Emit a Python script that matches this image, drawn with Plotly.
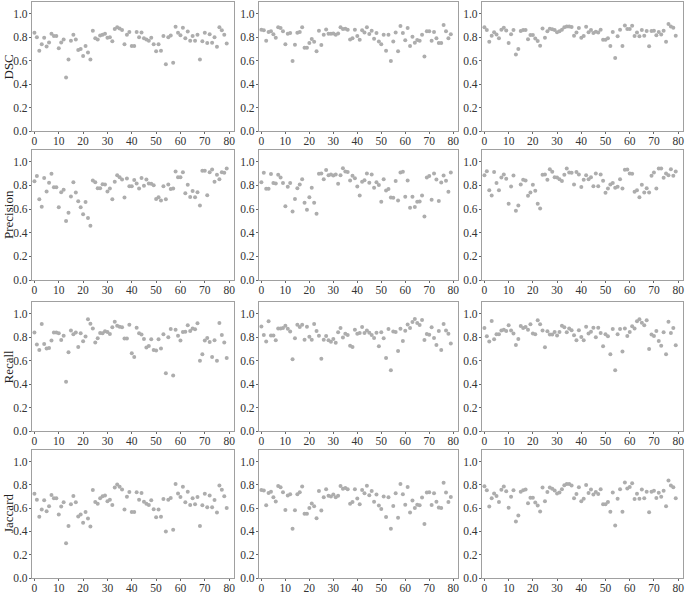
import plotly.graph_objects as go

case_index = list(range(80))
row_metrics = ["DSC", "Precision", "Recall", "Jaccard"]
x_tick_values = [0, 10, 20, 30, 40, 50, 60, 70, 80]
y_tick_values = [0.0, 0.2, 0.4, 0.6, 0.8, 1.0]

dsc_a = [0.837,0.80,0.685,0.74,0.795,0.72,0.755,0.83,0.81,0.81,0.705,0.755,0.78,0.456,0.61,0.77,0.82,0.78,0.69,0.70,
         0.64,0.725,0.67,0.61,0.855,0.79,0.78,0.815,0.82,0.83,0.795,0.80,0.765,0.87,0.885,0.875,0.862,0.74,0.82,0.845,
         0.725,0.725,0.845,0.80,0.84,0.79,0.78,0.77,0.795,0.74,0.68,0.74,0.685,0.81,0.57,0.80,0.815,0.583,0.89,0.837,
         0.817,0.88,0.79,0.848,0.77,0.81,0.77,0.82,0.61,0.765,0.837,0.75,0.825,0.752,0.80,0.718,0.885,0.86,0.82,0.746]
dsc_b = [0.864,0.86,0.77,0.845,0.85,0.825,0.795,0.884,0.878,0.85,0.74,0.83,0.835,0.597,0.736,0.838,0.845,0.884,0.71,0.71,
         0.75,0.784,0.76,0.68,0.855,0.733,0.82,0.866,0.83,0.83,0.832,0.82,0.832,0.884,0.87,0.872,0.864,0.78,0.79,0.864,
         0.81,0.778,0.86,0.84,0.884,0.827,0.855,0.787,0.835,0.764,0.74,0.82,0.685,0.82,0.597,0.764,0.84,0.68,0.895,0.835,
         0.773,0.878,0.724,0.804,0.753,0.776,0.77,0.82,0.636,0.85,0.85,0.77,0.844,0.79,0.75,0.75,0.903,0.85,0.79,0.824]
dsc_c = [0.884,0.861,0.762,0.813,0.841,0.822,0.79,0.864,0.881,0.858,0.75,0.824,0.861,0.652,0.70,0.853,0.861,0.861,0.782,0.819,
         0.819,0.788,0.768,0.728,0.875,0.796,0.85,0.872,0.867,0.861,0.841,0.85,0.864,0.884,0.892,0.892,0.887,0.813,0.839,0.878,
         0.796,0.81,0.89,0.841,0.861,0.836,0.847,0.839,0.864,0.779,0.779,0.79,0.725,0.844,0.623,0.807,0.864,0.725,0.90,0.87,
         0.87,0.898,0.81,0.839,0.807,0.861,0.813,0.853,0.722,0.853,0.855,0.816,0.844,0.822,0.855,0.762,0.912,0.892,0.881,0.813]

precision_a = [0.836,0.879,0.684,0.619,0.864,0.749,0.822,0.898,0.785,0.785,0.616,0.743,0.763,0.50,0.568,0.706,0.828,0.74,0.667,0.616,
               0.556,0.661,0.525,0.46,0.842,0.828,0.777,0.777,0.81,0.808,0.749,0.774,0.684,0.831,0.887,0.87,0.85,0.698,0.859,0.794,
               0.794,0.847,0.816,0.774,0.864,0.797,0.85,0.816,0.814,0.802,0.686,0.70,0.672,0.794,0.684,0.808,0.771,0.774,0.918,0.87,
               0.87,0.912,0.734,0.805,0.703,0.754,0.70,0.743,0.63,0.924,0.924,0.718,0.912,0.935,0.831,0.89,0.853,0.912,0.907,0.944]
precision_b = [0.828,0.907,0.772,0.772,0.896,0.82,0.817,0.89,0.868,0.82,0.625,0.789,0.82,0.58,0.685,0.777,0.808,0.853,0.654,0.594,
               0.70,0.78,0.654,0.56,0.899,0.901,0.853,0.93,0.887,0.893,0.885,0.893,0.814,0.887,0.946,0.918,0.913,0.842,0.882,0.862,
               0.792,0.715,0.831,0.845,0.901,0.823,0.893,0.78,0.828,0.803,0.662,0.853,0.758,0.769,0.699,0.696,0.837,0.673,0.91,0.915,
               0.704,0.842,0.611,0.704,0.617,0.662,0.665,0.715,0.538,0.868,0.879,0.679,0.901,0.851,0.668,0.825,0.885,0.839,0.746,0.91]
precision_c = [0.887,0.921,0.76,0.715,0.913,0.82,0.76,0.868,0.893,0.856,0.645,0.792,0.885,0.586,0.631,0.808,0.848,0.842,0.713,0.741,
               0.806,0.755,0.645,0.606,0.89,0.893,0.848,0.938,0.915,0.87,0.868,0.853,0.837,0.89,0.944,0.91,0.907,0.808,0.913,0.893,
               0.786,0.848,0.887,0.853,0.87,0.794,0.901,0.794,0.893,0.839,0.738,0.775,0.808,0.82,0.78,0.789,0.853,0.775,0.932,0.935,
               0.901,0.899,0.746,0.76,0.701,0.806,0.741,0.777,0.741,0.882,0.91,0.775,0.944,0.944,0.865,0.901,0.887,0.938,0.882,0.918]

recall_a = [0.839,0.737,0.691,0.912,0.742,0.703,0.708,0.771,0.839,0.839,0.833,0.776,0.813,0.419,0.671,0.858,0.824,0.839,0.717,0.833,
            0.765,0.805,0.952,0.915,0.873,0.754,0.79,0.836,0.833,0.85,0.844,0.827,0.884,0.932,0.898,0.89,0.884,0.788,0.788,0.907,
            0.663,0.632,0.881,0.833,0.822,0.785,0.711,0.725,0.782,0.691,0.686,0.782,0.703,0.824,0.493,0.799,0.87,0.473,0.864,0.813,
            0.771,0.844,0.847,0.901,0.853,0.875,0.867,0.918,0.598,0.654,0.771,0.793,0.759,0.632,0.773,0.60,0.921,0.819,0.754,0.623]
recall_b = [0.892,0.818,0.764,0.935,0.815,0.815,0.773,0.875,0.875,0.878,0.898,0.872,0.849,0.611,0.79,0.906,0.886,0.906,0.778,0.889,
            0.804,0.778,0.912,0.852,0.813,0.616,0.778,0.81,0.773,0.761,0.784,0.753,0.841,0.878,0.798,0.83,0.818,0.727,0.716,0.864,
            0.83,0.835,0.886,0.835,0.858,0.838,0.818,0.793,0.838,0.722,0.841,0.79,0.622,0.869,0.517,0.849,0.844,0.682,0.872,0.767,
            0.855,0.909,0.878,0.929,0.955,0.92,0.903,0.946,0.776,0.827,0.821,0.884,0.793,0.733,0.852,0.69,0.912,0.858,0.83,0.747]
recall_c = [0.879,0.808,0.763,0.938,0.782,0.825,0.825,0.856,0.864,0.853,0.901,0.856,0.831,0.734,0.785,0.895,0.879,0.887,0.864,0.91,
            0.831,0.825,0.944,0.91,0.856,0.715,0.85,0.822,0.822,0.845,0.814,0.845,0.898,0.884,0.842,0.873,0.859,0.816,0.774,0.859,
            0.802,0.774,0.89,0.831,0.847,0.881,0.799,0.881,0.836,0.723,0.825,0.808,0.655,0.87,0.517,0.825,0.87,0.678,0.873,0.811,
            0.845,0.893,0.873,0.935,0.952,0.924,0.901,0.944,0.70,0.822,0.811,0.853,0.768,0.726,0.842,0.655,0.932,0.836,0.879,0.732]

jaccard_a = [0.724,0.673,0.526,0.588,0.668,0.574,0.616,0.713,0.685,0.685,0.545,0.614,0.651,0.298,0.446,0.634,0.705,0.651,0.528,0.545,
             0.474,0.568,0.511,0.443,0.756,0.653,0.639,0.685,0.702,0.71,0.659,0.673,0.628,0.778,0.804,0.784,0.761,0.588,0.699,0.739,
             0.568,0.568,0.736,0.673,0.73,0.656,0.639,0.628,0.668,0.591,0.523,0.588,0.526,0.679,0.40,0.673,0.688,0.415,0.807,0.727,
             0.696,0.784,0.651,0.741,0.628,0.685,0.634,0.696,0.446,0.625,0.724,0.608,0.71,0.608,0.67,0.563,0.795,0.759,0.702,0.602]
jaccard_b = [0.756,0.753,0.625,0.731,0.742,0.695,0.658,0.79,0.779,0.737,0.585,0.709,0.72,0.423,0.583,0.72,0.737,0.787,0.552,0.552,
             0.602,0.641,0.616,0.513,0.748,0.58,0.695,0.762,0.706,0.70,0.717,0.695,0.706,0.79,0.768,0.773,0.762,0.639,0.653,0.762,
             0.683,0.633,0.756,0.728,0.793,0.711,0.748,0.655,0.717,0.622,0.594,0.70,0.524,0.695,0.423,0.619,0.728,0.518,0.807,0.72,
             0.63,0.782,0.563,0.667,0.602,0.63,0.625,0.692,0.465,0.734,0.737,0.627,0.728,0.655,0.605,0.602,0.818,0.734,0.653,0.697]
jaccard_c = [0.789,0.755,0.614,0.685,0.727,0.704,0.654,0.758,0.786,0.746,0.603,0.699,0.755,0.485,0.538,0.741,0.755,0.761,0.642,0.69,
             0.69,0.648,0.623,0.572,0.777,0.659,0.738,0.777,0.766,0.752,0.727,0.735,0.763,0.797,0.808,0.808,0.794,0.685,0.721,0.78,
             0.659,0.682,0.80,0.73,0.761,0.718,0.738,0.721,0.763,0.634,0.634,0.654,0.569,0.735,0.451,0.682,0.763,0.569,0.82,0.769,
             0.783,0.814,0.679,0.724,0.682,0.761,0.685,0.741,0.566,0.741,0.749,0.687,0.732,0.699,0.749,0.617,0.837,0.794,0.78,0.685]

grid = [
    [dsc_a, dsc_b, dsc_c],
    [precision_a, precision_b, precision_c],
    [recall_a, recall_b, recall_c],
    [jaccard_a, jaccard_b, jaccard_c],
]

W, H = 685, 594
col_px = [(32, 234), (259, 458), (482, 683)]
row_px = [(2, 131), (150, 280), (302, 431), (450, 578)]

fig = go.Figure()
layout = {}
font_family = "Liberation Serif, Times New Roman, serif"
axis_color = "#a0a0a0"
annotations = []

for r in range(4):
    for c in range(3):
        k = r * 3 + c + 1
        xa = "x" if k == 1 else f"x{k}"
        ya = "y" if k == 1 else f"y{k}"
        fig.add_trace(go.Scatter(
            x=case_index, y=grid[r][c], mode="markers",
            marker=dict(size=4, color="#adadad", line=dict(width=0)),
            xaxis=xa, yaxis=ya, showlegend=False, hoverinfo="x+y"))
        x0, x1 = col_px[c]
        t, b = row_px[r]
        common = dict(showline=True, linecolor=axis_color, linewidth=1.2, mirror=True,
                      ticks="outside", ticklen=2, tickcolor="#666", tickwidth=1,
                      showgrid=False, zeroline=False, automargin=False,
                      tickfont=dict(family=font_family, size=11.5, color="#333"))
        layout["xaxis" if k == 1 else f"xaxis{k}"] = dict(
            domain=[x0 / W, x1 / W], anchor=ya, range=[-1, 82],
            tickvals=x_tick_values, ticklabelstandoff=-3, **common)
        layout["yaxis" if k == 1 else f"yaxis{k}"] = dict(
            domain=[1 - b / H, 1 - t / H], anchor=xa, range=[0, 1.1],
            tickvals=y_tick_values, tickformat=".1f", ticklabelstandoff=-1, **common)
    t, b = row_px[r]
    annotations.append(dict(
        text=row_metrics[r], textangle=-90, showarrow=False,
        xref="paper", yref="paper", x=8 / W, y=1 - (t + b) / 2 / H,
        xanchor="center", yanchor="middle",
        font=dict(family=font_family, size=13, color="#222")))

fig.update_layout(width=W, height=H, margin=dict(l=0, r=0, t=0, b=0),
                  plot_bgcolor="white", paper_bgcolor="white",
                  annotations=annotations, **layout)
fig.write_html("out.html", config={"displayModeBar": False},
               post_script="document.body.style.margin='0px';")
